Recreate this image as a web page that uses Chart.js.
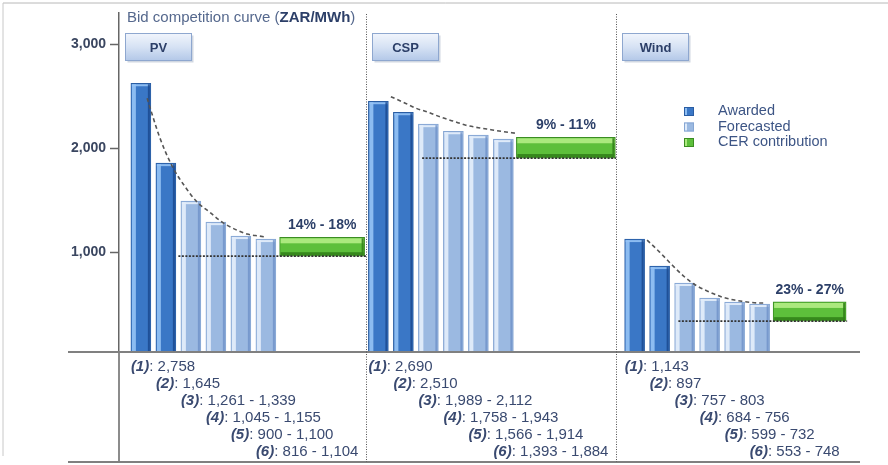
<!DOCTYPE html>
<html>
<head>
<meta charset="utf-8">
<script src="https://cdn.jsdelivr.net/npm/chart.js@4.4.1/dist/chart.umd.min.js"></script>
<style>
  html, body { margin: 0; padding: 0; background: #fff; }
</style>
</head>
<body>
<canvas id="bidChart" width="888" height="465"></canvas>
<script>
// values (ZAR/MWh)
const panels = ['PV', 'CSP', 'Wind'];
const pvBids = [2625, 1856, 1490, 1288, 1154, 1125];
const cspBids = [2452, 2346, 2231, 2163, 2125, 2087];
const windBids = [1125, 865, 702, 558, 519, 500];
const awardedCount = 2;
const cerLow = [960, 1905, 335];
const cerHigh = [1142, 2105, 520];
const cerLabels = ['14% - 18%', '9% - 11%', '23% - 27%'];
// dashed trend curves
const pvCurve = [2480, 2106, 1827, 1635, 1481, 1385, 1288, 1221, 1173, 1154, 1144];
const cspCurve = [2495, 2442, 2385, 2346, 2298, 2260, 2221, 2197, 2178, 2159, 2144];
const windCurve = [1115, 1000, 875, 760, 673, 615, 567, 538, 519, 510, 510];
// bid ranges printed under the chart
const pvRanges = ['2,758', '1,645', '1,261 - 1,339', '1,045 - 1,155', '900 - 1,100', '816 - 1,104'];
const cspRanges = ['2,690', '2,510', '1,989 - 2,112', '1,758 - 1,943', '1,566 - 1,914', '1,393 - 1,884'];
const windRanges = ['1,143', '897', '757 - 803', '684 - 756', '599 - 732', '553 - 748'];
const yTicks = [1000, 2000, 3000];
const legendLabels = ['Awarded', 'Forecasted', 'CER contribution'];

// category slots on the x axis
const slotCount = 120;
const barSlots = [[3, 7, 11, 15, 19, 23], [41, 45, 49, 53, 57, 61], [82, 86, 90, 94, 98, 102]];
const cerSlots = [32, 71, 110];
const cerWidths = [85, 99, 73];
const curveSlots = [
  [4, 6, 8, 10, 12, 14, 16, 18, 20, 22, 23],
  [43, 45, 47, 49, 51, 53, 55, 57, 59, 61, 63],
  [84, 86, 88, 90, 92, 94, 96, 98, 100, 102, 103]
];
const floorSlots = [[9, 39], [48, 79], [89, 116]];
const panelEdges = [39, 79];

const bids = [pvBids, cspBids, windBids];
const curves = [pvCurve, cspCurve, windCurve];
const ranges = [pvRanges, cspRanges, windRanges];

const FONT = "'Liberation Sans', Arial, sans-serif";
const COL_AWARDED = '#3a77c6';
const COL_FORECAST = '#9bb9e1';
const COL_CER = '#5dbf3b';
const TEXT_DARK = '#2c3f68';

const labels = [];
panels.forEach(p => { for (let i = 0; i < slotCount / 3; i++) labels.push(p + ' ' + (i + 1)); });
const blank = () => new Array(slotCount).fill(null);

const awardedData = blank();
const forecastData = blank();
bids.forEach((vals, p) => {
  vals.forEach((v, i) => {
    if (i < awardedCount) awardedData[barSlots[p][i]] = v;
    else forecastData[barSlots[p][i]] = v;
  });
});

const datasets = [
  {
    label: 'Awarded', data: awardedData, backgroundColor: COL_AWARDED, borderColor: '#2a5da3',
    borderWidth: 1, barThickness: 20, grouped: false, order: 2,
    bevel: { light: 'rgba(150,195,245,0.9)', dark: 'rgba(25,70,140,0.8)' }
  },
  {
    label: 'Forecasted', data: forecastData, backgroundColor: COL_FORECAST, borderColor: '#86a6d3',
    borderWidth: 1, barThickness: 20, grouped: false, order: 2,
    bevel: { light: 'rgba(225,236,250,0.95)', dark: 'rgba(110,145,200,0.8)' }
  }
];

panels.forEach((p, k) => {
  const d = blank();
  d[cerSlots[k]] = [cerLow[k], cerHigh[k]];
  datasets.push({
    label: 'CER contribution', data: d, backgroundColor: COL_CER, borderColor: '#3b8d22',
    borderWidth: 1, borderSkipped: false, barThickness: cerWidths[k], grouped: false, order: 2,
    bevel: { top: 'rgba(175,235,130,0.95)', bottom: 'rgba(50,130,25,0.9)' }
  });
});

panels.forEach((p, k) => {
  const d = blank();
  curveSlots[k].forEach((s, i) => { d[s] = curves[k][i]; });
  datasets.push({
    type: 'line', label: p + ' curve', data: d, borderColor: '#555', borderWidth: 1.6,
    borderDash: [4, 3], pointRadius: 0, spanGaps: true, cubicInterpolationMode: 'monotone', order: 0
  });
});

panels.forEach((p, k) => {
  const d = blank();
  d[floorSlots[k][0]] = cerLow[k];
  d[floorSlots[k][1]] = cerLow[k];
  datasets.push({
    type: 'line', label: p + ' floor', data: d, borderColor: '#333', borderWidth: 1.8,
    borderDash: [2, 1.5], pointRadius: 0, spanGaps: true, order: 0
  });
});

function line(ctx, x1, y1, x2, y2, color, width, dash) {
  ctx.save();
  ctx.strokeStyle = color;
  ctx.lineWidth = width;
  ctx.setLineDash(dash || []);
  ctx.beginPath();
  ctx.moveTo(x1, y1);
  ctx.lineTo(x2, y2);
  ctx.stroke();
  ctx.restore();
}

function runs(ctx, x, y, parts) {
  ctx.textBaseline = 'middle';
  ctx.textAlign = 'left';
  parts.forEach(r => {
    ctx.font = r.font;
    ctx.fillStyle = r.color;
    ctx.fillText(r.text, x, y);
    x += ctx.measureText(r.text).width;
  });
}

const decor = {
  id: 'decor',
  afterDatasetDraw(chart, args) {
    const ds = chart.data.datasets[args.index];
    if (!ds.bevel) return;
    const ctx = chart.ctx, area = chart.chartArea;
    ctx.save();
    args.meta.data.forEach((el, i) => {
      if (ds.data[i] == null) return;
      const p = el.getProps(['x', 'y', 'base', 'width'], true);
      const left = p.x - p.width / 2, right = p.x + p.width / 2;
      const top = Math.min(p.y, p.base), bottom = Math.min(Math.max(p.y, p.base), area.bottom);
      if (ds.bevel.light) {
        ctx.fillStyle = ds.bevel.light;
        ctx.fillRect(left + 1, top + 1, 4, bottom - top - 1);
        ctx.fillRect(left + 1, top + 1, p.width - 2, 2);
        ctx.fillStyle = ds.bevel.dark;
        ctx.fillRect(right - 3, top + 1, 2, bottom - top - 1);
      } else {
        ctx.fillStyle = ds.bevel.top;
        ctx.fillRect(left + 1, top + 1, p.width - 2, 5);
        ctx.fillStyle = ds.bevel.bottom;
        ctx.fillRect(left + 1, bottom - 4, p.width - 2, 3);
        ctx.fillRect(right - 3, top + 1, 2, bottom - top - 2);
      }
    });
    ctx.restore();
  },
  afterDraw(chart) {
    const ctx = chart.ctx, area = chart.chartArea, xs = chart.scales.x;
    const bottomLine = 462;

    // outer frame
    line(ctx, 3, 3, 888, 3, '#b8b8b8', 1);
    line(ctx, 3, 3, 3, 456, '#c8c8c8', 1);

    // y axis extension, baseline and bottom rule
    line(ctx, area.left, area.bottom, area.left, bottomLine, '#666', 1.5);
    line(ctx, 68, area.bottom, 860, area.bottom, '#808080', 2);
    line(ctx, 68, bottomLine, 860, bottomLine, '#808080', 2);

    // dotted separators between technologies
    panelEdges.forEach(s => {
      const x = Math.round(xs.getPixelForValue(s)) + 0.5;
      line(ctx, x, 14, x, bottomLine, '#555', 1, [1, 1.5]);
    });

    // title
    runs(ctx, 127, 18, [
      { text: 'Bid competition curve (', font: '15px ' + FONT, color: '#55688d' },
      { text: 'ZAR/MWh', font: 'bold 15px ' + FONT, color: TEXT_DARK },
      { text: ')', font: '15px ' + FONT, color: '#55688d' }
    ]);

    // panel header boxes
    const starts = [area.left, xs.getPixelForValue(panelEdges[0]), xs.getPixelForValue(panelEdges[1])];
    panels.forEach((p, k) => {
      const bx = Math.round(starts[k]) + 6.5, by = 33.5, bw = 66, bh = 27;
      ctx.save();
      const g = ctx.createLinearGradient(0, by, 0, by + bh);
      g.addColorStop(0, '#f1f5fc');
      g.addColorStop(0.5, '#d6e2f4');
      g.addColorStop(1, '#b3c8e8');
      ctx.fillStyle = 'rgba(120,140,170,0.35)';
      ctx.fillRect(bx + 2, by + 2, bw, bh);
      ctx.fillStyle = g;
      ctx.fillRect(bx, by, bw, bh);
      ctx.strokeStyle = '#8ea7cf';
      ctx.lineWidth = 1;
      ctx.strokeRect(bx, by, bw, bh);
      ctx.font = 'bold 13px ' + FONT;
      ctx.fillStyle = TEXT_DARK;
      ctx.textAlign = 'center';
      ctx.textBaseline = 'middle';
      ctx.fillText(p, bx + bw / 2, by + bh / 2 + 1);
      ctx.restore();
    });

    // CER percentage labels
    panels.forEach((p, k) => {
      const el = chart.getDatasetMeta(2 + k).data[cerSlots[k]];
      ctx.save();
      ctx.font = 'bold 14px ' + FONT;
      ctx.fillStyle = TEXT_DARK;
      ctx.textAlign = 'center';
      ctx.textBaseline = 'middle';
      ctx.fillText(cerLabels[k], el.x, el.y - 12);
      ctx.restore();
    });

    // legend
    const legendColors = [COL_AWARDED, COL_FORECAST, COL_CER];
    const legendEdge = ['#2a5da3', '#86a6d3', '#3b8d22'];
    const legendLight = ['rgba(150,195,245,0.9)', 'rgba(225,236,250,0.95)', 'rgba(175,235,130,0.95)'];
    legendLabels.forEach((t, i) => {
      const cy = 111 + i * 15.5;
      ctx.save();
      ctx.fillStyle = legendColors[i];
      ctx.fillRect(684, cy - 4, 10, 9);
      ctx.fillStyle = legendLight[i];
      ctx.fillRect(684, cy - 4, 3, 9);
      ctx.strokeStyle = legendEdge[i];
      ctx.lineWidth = 1;
      ctx.strokeRect(684.5, cy - 3.5, 9, 8);
      ctx.restore();
      runs(ctx, 718, cy, [{ text: t, font: '14.5px ' + FONT, color: '#3d5585' }]);
    });

    // bid ranges below the axis
    panels.forEach((p, k) => {
      barSlots[k].forEach((s, i) => {
        const meta = chart.getDatasetMeta(i < awardedCount ? 0 : 1);
        const el = meta.data[s];
        const x = el.x - el.width / 2;
        const y = 367 + i * 17;
        runs(ctx, x, y, [
          { text: '(' + (i + 1) + ')', font: 'italic bold 15px ' + FONT, color: '#3a4a70' },
          { text: ': ' + ranges[k][i], font: '15px ' + FONT, color: '#3a4a70' }
        ]);
      });
    });
  }
};

new Chart(document.getElementById('bidChart'), {
  type: 'bar',
  data: { labels: labels, datasets: datasets },
  options: {
    responsive: false,
    animation: false,
    layout: { padding: { top: 12, right: 19, bottom: 113, left: 0 } },
    plugins: { legend: { display: false }, tooltip: { enabled: false } },
    scales: {
      x: { type: 'category', display: false, offset: true },
      y: {
        min: 38,
        max: 3307,
        afterBuildTicks: scale => { scale.ticks = yTicks.map(v => ({ value: v })); },
        afterFit: scale => { scale.width = 119; },
        ticks: {
          callback: v => v.toLocaleString('en-US'),
          font: { family: FONT, size: 14, weight: 'bold' },
          color: '#3a4660',
          padding: 4
        },
        grid: { drawOnChartArea: false, tickLength: 9, tickColor: '#666', tickWidth: 1.5 },
        border: { color: '#666', width: 1.5 }
      }
    }
  },
  plugins: [decor]
});
</script>
</body>
</html>
